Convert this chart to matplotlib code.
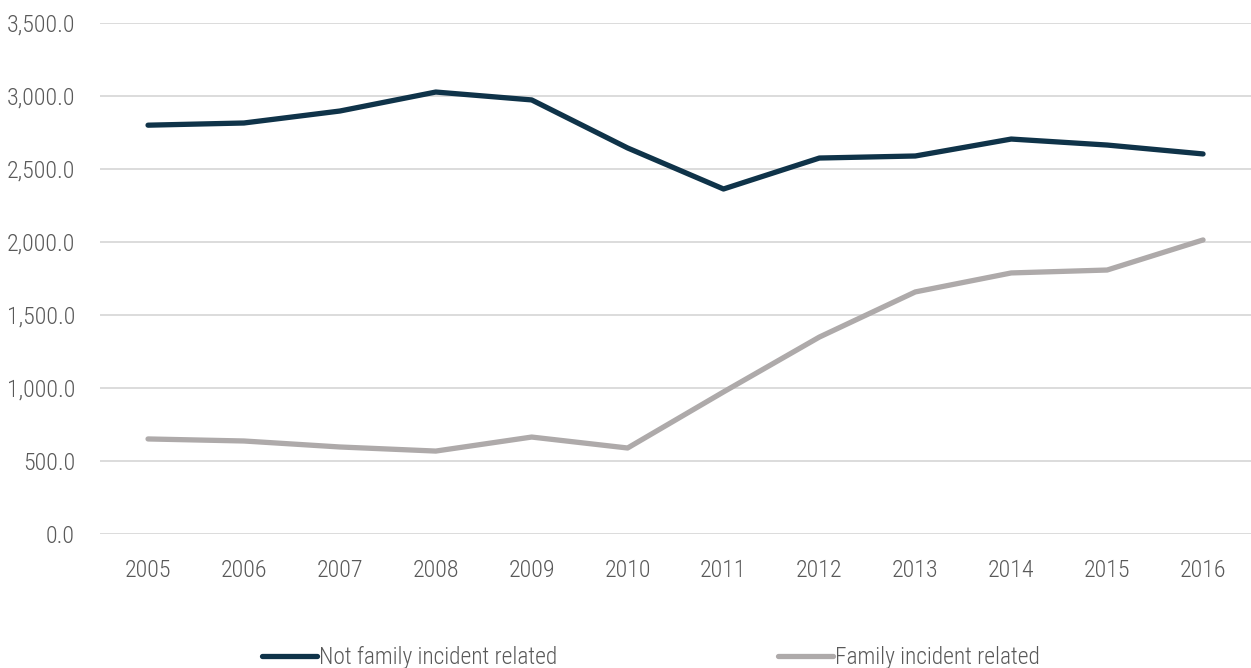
import numpy as np
import matplotlib.pyplot as plt
from matplotlib.lines import Line2D

years = ['2005', '2006', '2007', '2008', '2009', '2010', '2011', '2012', '2013', '2014', '2015', '2016']
not_family = [2800, 2815, 2897, 3027, 2973, 2644, 2363, 2575, 2589, 2705, 2664, 2603]
family = [651, 637, 596, 568, 664, 589, 973, 1349, 1658, 1788, 1808, 2014]

dark = '#0f3349'
grey = '#aeaaaa'
txt = '#595959'

plt.rcParams['font.family'] = ['Roboto Condensed', 'Roboto', 'DejaVu Sans']
plt.rcParams['font.weight'] = 'light'

fig = plt.figure(figsize=(12.51, 6.68), dpi=100)
ax = fig.add_axes([0.08, 0.2006, 0.92, 0.765])

x = np.arange(len(years))
ax.plot(x, not_family, color=dark, lw=3.8, solid_capstyle='round', solid_joinstyle='round', zorder=3)
ax.plot(x, family, color=grey, lw=3.8, solid_capstyle='round', solid_joinstyle='round', zorder=3)

ax.set_xlim(-0.5, len(years) - 0.5)
ax.set_ylim(0, 3500)
ax.set_yticks(np.arange(0, 3501, 500))
ax.set_yticklabels(['{:,.1f}'.format(v) for v in np.arange(0, 3501, 500)])
ax.set_xticks(x)
ax.set_xticklabels(years)
ax.grid(axis='y', color='#d9d9d9', lw=1.3)
ax.set_axisbelow(True)
for s in ax.spines.values():
    s.set_visible(False)
ax.tick_params(length=0, labelsize=17.3, labelcolor=txt)
ax.tick_params(axis='x', pad=18)
ax.tick_params(axis='y', pad=18)

h1 = Line2D([], [], color=dark, lw=3.8, solid_capstyle='round')
h2 = Line2D([], [], color=grey, lw=3.8, solid_capstyle='round')
for h, lab, xa in [(h1, 'Not family incident related', 0.2094), (h2, 'Family incident related', 0.622)]:
    leg = fig.legend([h], [lab], loc='center left', bbox_to_anchor=(xa, 0.0155),
                     frameon=False, borderpad=0, borderaxespad=0, handlelength=2.35,
                     handletextpad=0.1, fontsize=16.8, labelcolor=txt)

fig.savefig('out.png', dpi=100)
